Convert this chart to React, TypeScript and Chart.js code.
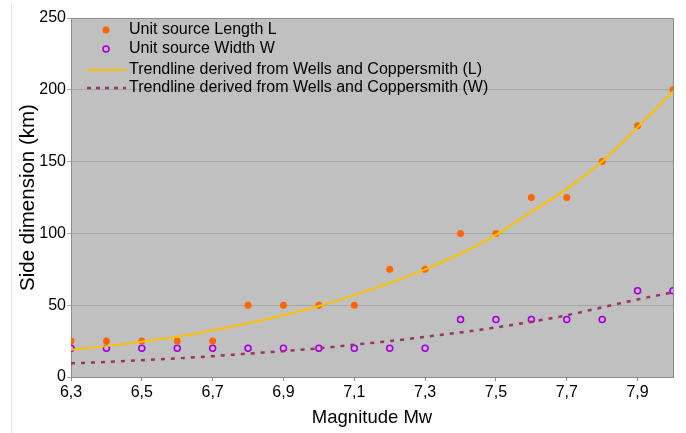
import React, { useEffect, useRef } from "react";
import { Chart, registerables } from "chart.js";

Chart.register(...registerables);

const magnitudes = [6.3, 6.4, 6.5, 6.6, 6.7, 6.8, 6.9, 7.0, 7.1, 7.2, 7.3, 7.4, 7.5, 7.6, 7.7, 7.8, 7.9, 8.0];
const lengthL = [25, 25, 25, 25, 25, 50, 50, 50, 50, 75, 75, 100, 100, 125, 125, 150, 175, 200];
const widthW = [20, 20, 20, 20, 20, 20, 20, 20, 20, 20, 20, 40, 40, 40, 40, 40, 60, 60];
const trendL = [19, 21.5, 24.5, 28, 32.5, 37.5, 43, 49.5, 57, 65.5, 75, 86, 99, 115, 131, 150, 174, 199];
const trendW = [9.5, 10.5, 11.7, 13, 14.5, 16.3, 18, 20, 22.5, 25, 28, 31, 34.5, 38.5, 43, 48.5, 54, 59];
const xTickValues = [6.3, 6.5, 6.7, 6.9, 7.1, 7.3, 7.5, 7.7, 7.9];
const yTickValues = [0, 50, 100, 150, 200, 250];
const legendLabels = [
  "Unit source Length L",
  "Unit source Width W",
  "Trendline derived from Wells and Coppersmith (L)",
  "Trendline derived from Wells and Coppersmith (W)",
];

const FONT = "'Liberation Sans', Arial, sans-serif";
const C_L = "#FF6600";
const C_W_STROKE = "#9900CC";
const C_W_FILL = "#D9A3FF";
const C_TL = "#FFC000";
const C_TW = "#993366";

const pts = (ys: number[]) => magnitudes.map((x, i) => ({ x, y: ys[i] }));

const bgPlugin = {
  id: "bgPlugin",
  beforeDraw(chart: any) {
    const { ctx, chartArea: a } = chart;
    ctx.save();
    ctx.strokeStyle = "#E6E6E6";
    ctx.lineWidth = 1;
    ctx.beginPath();
    ctx.moveTo(11.5, 4);
    ctx.lineTo(11.5, 433);
    ctx.stroke();
    ctx.fillStyle = "#C0C0C0";
    ctx.fillRect(a.left, a.top, a.right - a.left, a.bottom - a.top);
    ctx.restore();
  },
  afterDraw(chart: any) {
    const { ctx, chartArea: a } = chart;
    ctx.save();
    ctx.strokeStyle = "#8C8C8C";
    ctx.lineWidth = 1;
    ctx.beginPath();
    ctx.moveTo(a.left, a.top + 0.5);
    ctx.lineTo(a.right + 0.5, a.top + 0.5);
    ctx.lineTo(a.right + 0.5, a.bottom);
    ctx.stroke();
    // legend
    const rows = [12, 31, 52, 70];
    const mx = a.left + 35;
    const tx = a.left + 58;
    ctx.font = `16px ${FONT}`;
    ctx.textBaseline = "middle";
    // marker L
    ctx.beginPath();
    ctx.arc(mx, a.top + rows[0], 3.5, 0, Math.PI * 2);
    ctx.fillStyle = C_L;
    ctx.fill();
    // marker W
    ctx.beginPath();
    ctx.arc(mx, a.top + rows[1], 3, 0, Math.PI * 2);
    ctx.fillStyle = C_W_FILL;
    ctx.fill();
    ctx.lineWidth = 1.5;
    ctx.strokeStyle = C_W_STROKE;
    ctx.stroke();
    // line L
    ctx.beginPath();
    ctx.strokeStyle = C_TL;
    ctx.lineWidth = 2;
    ctx.moveTo(a.left + 16, a.top + rows[2]);
    ctx.lineTo(a.left + 55, a.top + rows[2]);
    ctx.stroke();
    // line W
    ctx.beginPath();
    ctx.strokeStyle = C_TW;
    ctx.lineWidth = 2.5;
    ctx.setLineDash([4, 5]);
    ctx.moveTo(a.left + 16, a.top + rows[3]);
    ctx.lineTo(a.left + 55, a.top + rows[3]);
    ctx.stroke();
    ctx.setLineDash([]);
    ctx.fillStyle = "#000";
    legendLabels.forEach((t, i) => ctx.fillText(t, tx, a.top + rows[i]));
    ctx.restore();
  },
};

export default function App() {
  const ref = useRef<HTMLCanvasElement>(null);
  useEffect(() => {
    const chart = new Chart(ref.current!, {
      type: "scatter",
      data: {
        datasets: [
          {
            label: legendLabels[2],
            data: pts(trendL),
            showLine: true,
            borderColor: C_TL,
            borderWidth: 2,
            pointRadius: 0,
            cubicInterpolationMode: "monotone",
            order: 0,
          } as any,
          {
            label: legendLabels[3],
            data: pts(trendW),
            showLine: true,
            borderColor: C_TW,
            borderWidth: 2.5,
            borderDash: [4, 6],
            pointRadius: 0,
            cubicInterpolationMode: "monotone",
            order: 0,
          } as any,
          {
            label: legendLabels[0],
            data: pts(lengthL),
            backgroundColor: C_L,
            borderColor: C_L,
            pointRadius: 3.5,
            borderWidth: 0,
            order: 1,
          },
          {
            label: legendLabels[1],
            data: pts(widthW),
            backgroundColor: C_W_FILL,
            borderColor: C_W_STROKE,
            pointRadius: 3,
            borderWidth: 1.5,
            order: 1,
          },
        ],
      },
      options: {
        animation: false,
        responsive: false,
        maintainAspectRatio: false,
        layout: { padding: { top: 18, right: 13, left: 0, bottom: 0 } },
        plugins: { legend: { display: false }, tooltip: { enabled: false } },
        scales: {
          x: {
            type: "linear",
            min: 6.3,
            max: 8.0,
            afterBuildTicks: (s: any) => {
              s.ticks = xTickValues.map((v) => ({ value: v }));
            },
            afterFit: (s: any) => {
              s.height = 56;
            },
            grid: { display: true, drawOnChartArea: false, color: "#8C8C8C", tickLength: 4 },
            border: { color: "#8C8C8C" },
            ticks: {
              color: "#000",
              font: { family: FONT, size: 16 },
              padding: 2,
              maxRotation: 0,
              autoSkip: false,
              callback: (v: any) => Number(v).toFixed(1).replace(".", ","),
            },
            title: {
              display: true,
              text: "Magnitude Mw",
              color: "#000",
              font: { family: FONT, size: 18.5 },
              padding: { top: 2, bottom: 4 },
            },
          },
          y: {
            min: 0,
            max: 250,
            afterBuildTicks: (s: any) => {
              s.ticks = yTickValues.map((v) => ({ value: v }));
            },
            afterFit: (s: any) => {
              s.width = 71;
            },
            grid: { color: "#A6A6A6", tickLength: 4 },
            border: { color: "#8C8C8C" },
            ticks: {
              color: "#000",
              font: { family: FONT, size: 16 },
              padding: 1,
            },
            title: {
              display: true,
              text: "Side dimension (km)",
              color: "#000",
              font: { family: FONT, size: 20.5 },
              padding: { top: 16, bottom: 0 },
            },
          },
        },
      },
      plugins: [bgPlugin],
    });
    return () => chart.destroy();
  }, []);
  return (
    <div style={{ position: "absolute", left: 0, top: 0, width: 686, height: 433, background: "#fff" }}>
      <canvas ref={ref} width={686} height={433} style={{ width: 686, height: 433 }} />
    </div>
  );
}
